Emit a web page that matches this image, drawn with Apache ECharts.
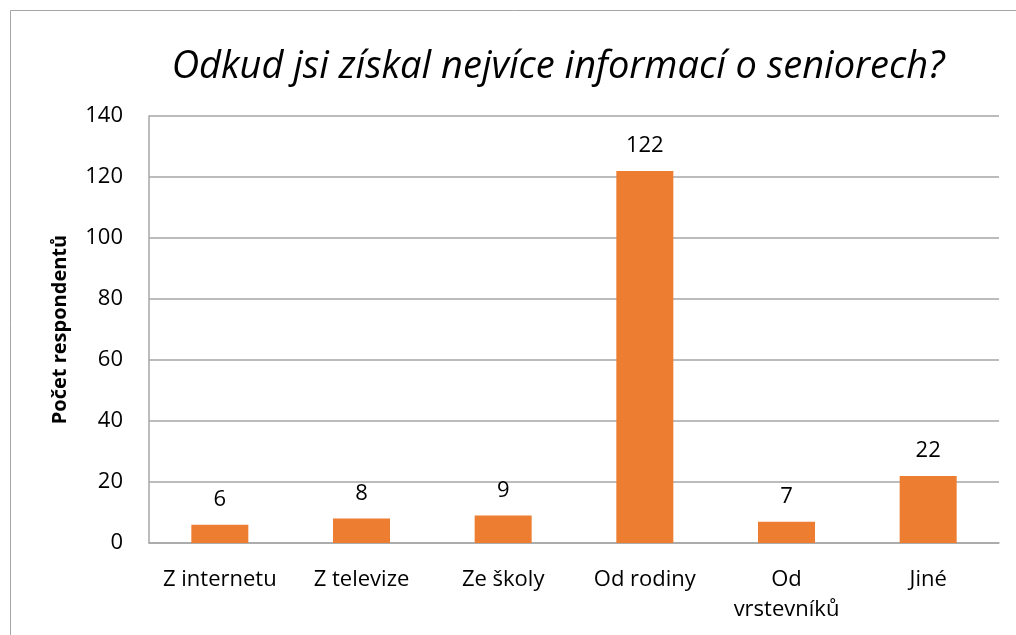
<html style="height: 100%">

<head>
    <meta charset="utf-8">
</head>

<body style="height: 100%; margin: 0">
    <div id="container" style="width: 1016px; height: 635px"></div>

    <script type="text/javascript" src="https://cdn.jsdelivr.net/npm/echarts@6/dist/echarts.min.js"></script>

    <script type="text/javascript">
        var chartDom = document.getElementById('container');
        var myChart = echarts.init(chartDom);
        var option;

        // data
        var categories = ['Z internetu', 'Z televize', 'Ze školy', 'Od rodiny', 'Od\nvrstevníků', 'Jiné'];
        var counts = [6, 8, 9, 122, 7, 22];
        var yTicks = [0, 20, 40, 60, 80, 100, 120, 140];

        var font = 'Open Sans';

        option = {
            backgroundColor: '#fff',
            title: {
                text: 'Odkud jsi získal nejvíce informací o seniorech?',
                left: 553,
                top: 43,
                textAlign: 'center',
                textStyle: {
                    fontFamily: font,
                    fontStyle: 'italic',
                    fontWeight: 'normal',
                    fontSize: 38,
                    color: '#000'
                }
            },
            graphic: [{
                type: 'rect',
                shape: { x: 10.5, y: 10.5, width: 1100, height: 700 },
                style: { fill: 'none', stroke: '#a6a6a6', lineWidth: 1 }
            }],
            grid: {
                left: 149,
                right: 17,
                top: 116,
                bottom: 92
            },
            xAxis: {
                type: 'category',
                data: categories,
                axisTick: { show: false },
                axisLine: { lineStyle: { color: '#a6a6a6', width: 1.5 } },
                axisLabel: {
                    color: '#000',
                    fontFamily: font,
                    fontSize: 22,
                    margin: 22,
                    lineHeight: 30,
                    interval: 0
                }
            },
            yAxis: {
                type: 'value',
                min: yTicks[0],
                max: yTicks[yTicks.length - 1],
                interval: 20,
                name: 'Počet respondentů',
                nameLocation: 'middle',
                nameGap: 79,
                nameTextStyle: {
                    color: '#000',
                    fontFamily: font,
                    fontWeight: 'bold',
                    fontSize: 20
                },
                axisLine: { show: true, lineStyle: { color: '#a6a6a6', width: 1.5 } },
                axisTick: { show: false },
                splitLine: { lineStyle: { color: '#a6a6a6', width: 1.5 } },
                axisLabel: {
                    color: '#000',
                    fontFamily: font,
                    fontSize: 22,
                    margin: 26
                }
            },
            series: [{
                type: 'bar',
                data: counts,
                barWidth: 57,
                itemStyle: { color: '#ed7d31' },
                label: {
                    show: true,
                    position: 'top',
                    distance: 14,
                    color: '#000',
                    fontFamily: font,
                    fontSize: 22
                }
            }]
        };

        option && myChart.setOption(option);
    </script>
</body>

</html>
